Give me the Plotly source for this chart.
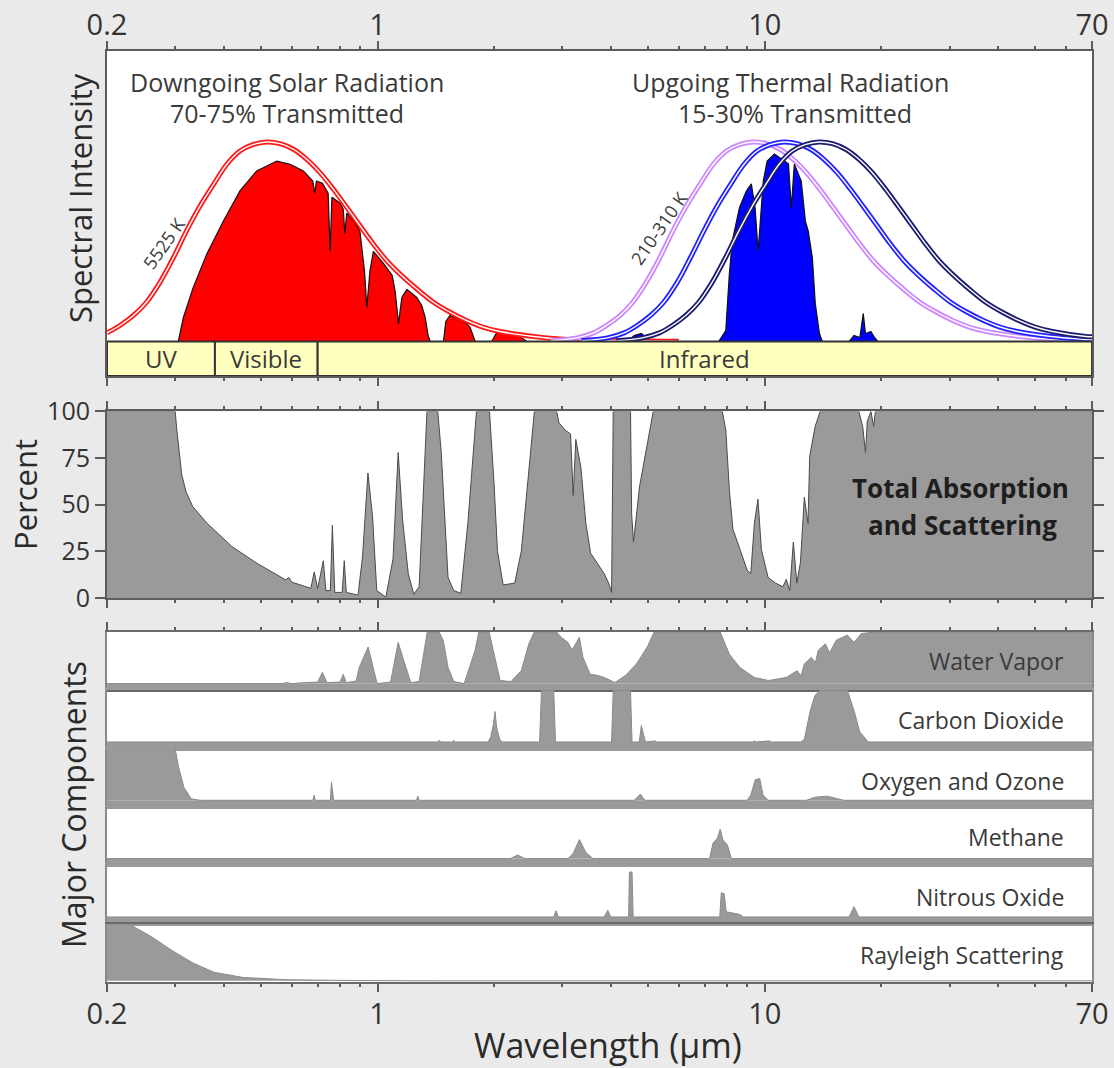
import math
import plotly.graph_objects as go

# ---------------- data ----------------
AXIS_TICKS = [0.2, 1, 10, 70]
AXIS_TICK_TEXT = ["0.2", "1", "10", "70"]
MINOR_TICKS = [0.3, 0.4, 0.5, 0.6, 0.7, 0.8, 0.9, 2, 3, 4, 5, 6, 7, 8, 9, 20, 30, 40, 50, 60]
PCT_TICKS = [0, 25, 50, 75, 100]

BAND_EDGES = [0.2, 0.38, 0.70, 70]
BAND_LABELS = ["UV", "Visible", "Infrared"]

# 5525 K black-body curve (normalised)
SOLAR_BB_WL = [0.2, 0.216, 0.234, 0.253, 0.274, 0.297, 0.321, 0.348, 0.377, 0.408, 0.441, 0.478,
               0.517, 0.56, 0.606, 0.656, 0.71, 0.769, 0.833, 0.901, 0.975, 1.056, 1.143, 1.263,
               1.394, 1.539, 1.70, 1.877, 2.073, 2.53, 2.96, 4.0, 6.0]
SOLAR_BB_VAL = [0.043, 0.08, 0.13, 0.196, 0.295, 0.419, 0.552, 0.677, 0.784, 0.884, 0.95, 0.983,
                0.995, 0.987, 0.959, 0.909, 0.842, 0.759, 0.668, 0.577, 0.486, 0.403, 0.336, 0.262,
                0.196, 0.146, 0.104, 0.071, 0.05, 0.025, 0.013, 0.005, 0.001]

# Solar radiation transmitted to the surface
SOLAR_SFC_WL = [0.3056, 0.315, 0.334, 0.362, 0.400, 0.441, 0.487, 0.549, 0.594, 0.643, 0.680, 0.688,
                0.695, 0.72, 0.745, 0.754, 0.762, 0.80, 0.815, 0.823, 0.832, 0.87, 0.90, 0.925,
                0.938, 0.955, 0.975, 1.035, 1.09, 1.11, 1.132, 1.155, 1.19, 1.262, 1.30, 1.327,
                1.35, 1.367, 1.479, 1.50, 1.538, 1.634, 1.70, 1.734, 1.786, 1.97, 2.03, 2.15,
                2.29, 2.43, 3.0, 3.4, 3.9, 4.1]
SOLAR_SFC_VAL = [0.0, 0.12, 0.27, 0.436, 0.602, 0.751, 0.851, 0.90, 0.884, 0.851, 0.80, 0.74,
                 0.80, 0.79, 0.74, 0.45, 0.72, 0.69, 0.66, 0.536, 0.64, 0.60, 0.55, 0.35,
                 0.17, 0.35, 0.45, 0.39, 0.33, 0.25, 0.088, 0.22, 0.26, 0.22, 0.18, 0.12,
                 0.03, 0.0, 0.0, 0.10, 0.13, 0.11, 0.09, 0.07, 0.0, 0.0, 0.045, 0.05,
                 0.035, 0.0, 0.0, 0.008, 0.008, 0.0]

# 310 K, 260 K and 210 K black-body curves (normalised)
BB310_WL = [2.8, 3.27, 3.61, 3.90, 4.23, 4.56, 4.94, 5.36, 5.79, 6.28, 6.80, 7.36, 7.96, 8.63, 9.33,
            10.10, 10.94, 11.84, 12.81, 13.87, 15.03, 16.26, 17.60, 19.06, 20.63, 22.79, 25.15,
            27.78, 30.68, 33.88, 37.41, 45.66, 53.41, 70]
BB310_VAL = [0.004, 0.018, 0.043, 0.08, 0.13, 0.196, 0.295, 0.419, 0.552, 0.677, 0.784, 0.884, 0.95,
             0.983, 0.995, 0.987, 0.959, 0.909, 0.842, 0.759, 0.668, 0.577, 0.486, 0.403, 0.336,
             0.262, 0.196, 0.146, 0.104, 0.071, 0.05, 0.025, 0.013, 0.004]
BB260_WL = [3.36, 3.92, 4.33, 4.68, 5.07, 5.48, 5.94, 6.43, 6.96, 7.54, 8.16, 8.84, 9.55, 10.36, 11.2,
            12.13, 13.13, 14.21, 15.38, 16.65, 18.04, 19.52, 21.12, 22.88, 24.76, 27.36, 30.20,
            33.34, 36.83, 40.67, 44.91, 54.81, 64.12, 70]
BB260_VAL = [0.004, 0.018, 0.043, 0.08, 0.13, 0.196, 0.295, 0.419, 0.552, 0.677, 0.784, 0.884, 0.95,
             0.983, 0.995, 0.987, 0.959, 0.909, 0.842, 0.759, 0.668, 0.577, 0.486, 0.403, 0.336,
             0.262, 0.196, 0.146, 0.104, 0.071, 0.05, 0.025, 0.013, 0.009]
BB210_WL = [4.14, 4.83, 5.34, 5.77, 6.25, 6.75, 7.31, 7.92, 8.57, 9.29, 10.06, 10.89, 11.77, 12.77,
            13.8, 14.95, 16.17, 17.51, 18.95, 20.52, 22.23, 24.05, 26.03, 28.19, 30.51, 33.71,
            37.20, 41.08, 45.37, 50.11, 55.34, 67.54, 70]
BB210_VAL = [0.004, 0.018, 0.043, 0.08, 0.13, 0.196, 0.295, 0.419, 0.552, 0.677, 0.784, 0.884, 0.95,
             0.983, 0.995, 0.987, 0.959, 0.909, 0.842, 0.759, 0.668, 0.577, 0.486, 0.403, 0.336,
             0.262, 0.196, 0.146, 0.104, 0.071, 0.05, 0.025, 0.024]

# Thermal radiation transmitted to space
THERMAL_TOA_WL = [4.4, 4.6, 4.8, 5.0, 5.2, 7.6, 7.93, 8.10, 8.24, 8.60, 8.96, 9.23, 9.44, 9.61, 9.91,
                  10.14, 10.59, 11.04, 11.51, 11.71, 11.92, 12.42, 12.73, 12.95, 13.27, 13.50,
                  13.84, 14.08, 16.5, 17.0, 17.6, 17.96, 18.2, 18.8, 19.2, 19.6]
THERMAL_TOA_VAL = [0.0, 0.03, 0.04, 0.01, 0.0, 0.0, 0.055, 0.338, 0.50, 0.667, 0.75, 0.786, 0.667,
                   0.45, 0.80, 0.90, 0.935, 0.91, 0.886, 0.667, 0.886, 0.80, 0.60, 0.55, 0.418,
                   0.19, 0.04, 0.0, 0.0, 0.03, 0.02, 0.14, 0.04, 0.05, 0.02, 0.0]

# Total absorption and scattering (percent)
TOTAL_WL = [0.2, 0.30, 0.303, 0.307, 0.312, 0.32, 0.333, 0.363, 0.421, 0.488, 0.579, 0.59, 0.60,
            0.672, 0.686, 0.70, 0.724, 0.735, 0.755, 0.764, 0.775, 0.81, 0.82, 0.83, 0.89, 0.914,
            0.944, 0.97, 0.995, 1.05, 1.096, 1.13, 1.16, 1.20, 1.24, 1.28, 1.341, 1.43, 1.46,
            1.52, 1.573, 1.64, 1.71, 1.80, 1.945, 2.0, 2.04, 2.11, 2.26, 2.35, 2.42, 2.54, 2.90,
            2.94, 3.05, 3.15, 3.2, 3.25, 3.35, 3.45, 3.55, 3.7, 3.85, 3.95, 4.02, 4.06, 4.50,
            4.53, 4.58, 4.75, 4.95, 5.15, 7.77, 7.93, 8.10, 8.27, 8.63, 9.0, 9.2, 9.4, 9.6, 9.8,
            10.2, 10.66, 11.14, 11.36, 11.6, 11.85, 12.1, 12.36, 12.65, 12.93, 13.06, 13.49,
            13.9, 17.5, 17.9, 18.2, 18.4, 18.8, 19.1, 19.3, 70]
TOTAL_PCT = [100, 100, 90, 78, 66, 57, 49, 40, 27.5, 18.6, 9.7, 11, 8.5,
             5.2, 14, 5, 20, 4, 4, 39, 3, 3, 20, 3, 1.5, 22,
             67, 44, 4, 0.5, 21, 78, 42, 13, 2, 6, 100, 100, 78,
             11, 4, 2.5, 40, 100, 100, 60, 25, 7, 8, 25, 52, 100, 100,
             94, 90, 88, 55, 85, 70, 40, 24, 18, 13, 8, 3, 100, 100,
             45, 30, 60, 80, 100, 100, 90, 58, 37, 26, 15, 13, 40, 53, 26,
             11, 8, 6, 10, 4, 30, 8, 19, 54, 40, 76, 92,
             100, 100, 92, 78, 95, 100, 92, 100, 100]

# Major components (relative absorption, 0-1)
COMPONENT_NAMES = ["Water Vapor", "Carbon Dioxide", "Oxygen and Ozone", "Methane",
                   "Nitrous Oxide", "Rayleigh Scattering"]
H2O_WL = [0.2, 0.57, 0.58, 0.60, 0.65, 0.70, 0.72, 0.74, 0.80, 0.815, 0.83, 0.88, 0.896, 0.945,
          0.974, 0.997, 1.08, 1.13, 1.168, 1.218, 1.28, 1.343, 1.442, 1.477, 1.521, 1.573,
          1.673, 1.786, 1.825, 1.941, 1.988, 2.073, 2.21, 2.349, 2.458, 2.538, 2.9, 2.98,
          3.10, 3.18, 3.32, 3.39, 3.54, 3.69, 3.85, 4.10, 4.37, 4.66, 4.97, 5.18, 7.67, 7.76,
          8.10, 8.63, 9.40, 10.22, 11.36, 12.12, 12.4, 12.65, 13.19, 13.5, 13.75, 14.34, 14.7,
          15.3, 16.34, 17.0, 17.76, 19.3, 70]
H2O_VAL = [0, 0, 0.02, 0, 0.02, 0.03, 0.22, 0.02, 0.03, 0.18, 0.02, 0.05, 0.31, 0.71,
           0.31, 0, 0.03, 0.8, 0.45, 0.02, 0.04, 1.0, 1.0, 0.84, 0.31, 0.04,
           0, 0.65, 1.0, 1.0, 0.65, 0.06, 0.04, 0.25, 0.77, 1.0, 1.0, 0.9,
           0.8, 0.65, 0.9, 0.51, 0.18, 0.16, 0.12, 0.02, 0.16, 0.38, 0.71, 1.0, 1.0, 0.9,
           0.57, 0.31, 0.12, 0.06, 0.12, 0.25, 0.15, 0.38, 0.51, 0.4, 0.65, 0.77, 0.6,
           0.84, 0.94, 0.8, 0.97, 1.0, 1.0]
CO2_WL = [0.2, 1.43, 1.44, 1.46, 1.56, 1.57, 1.59, 1.93, 1.96, 1.99, 2.01, 2.03, 2.07, 2.10,
          2.62, 2.65, 2.85, 2.88, 4.02, 4.06, 4.50, 4.54, 4.74, 4.8, 4.86, 4.92, 5.2, 5.26,
          9.3, 9.4, 9.5, 10.3, 10.4, 12.37, 12.65, 13.1, 13.47, 13.9, 16.34, 17.03, 17.58,
          18.5, 70]
CO2_VAL = [0, 0, 0.03, 0, 0, 0.03, 0, 0, 0.1, 0.33, 0.59, 0.27, 0.04, 0,
           0, 1.0, 1.0, 0, 0, 1.0, 1.0, 0, 0, 0.32, 0.15, 0, 0.02, 0,
           0, 0.02, 0, 0.02, 0, 0, 0.05, 0.6, 0.9, 1.0, 1.0, 0.59, 0.2,
           0, 0]
O3_WL = [0.2, 0.30, 0.306, 0.316, 0.33, 0.348, 0.68, 0.686, 0.69, 0.755, 0.76, 0.77, 1.26,
         1.27, 1.28, 4.6, 4.77, 4.9, 9.0, 9.2, 9.45, 9.7, 9.9, 10.2, 12.8, 13.5, 14.5, 15.5,
         16.0, 70]
O3_VAL = [1.0, 1.0, 0.65, 0.25, 0.03, 0, 0, 0.1, 0, 0, 0.35, 0, 0,
          0.08, 0, 0, 0.12, 0, 0, 0.1, 0.4, 0.42, 0.1, 0, 0, 0.06, 0.08, 0.03,
          0, 0]
CH4_WL = [0.2, 2.2, 2.3, 2.4, 3.1, 3.2, 3.32, 3.45, 3.6, 7.2, 7.35, 7.55, 7.67, 7.8, 8.0, 8.2, 70]
CH4_VAL = [0, 0, 0.07, 0, 0, 0.1, 0.37, 0.12, 0, 0, 0.3, 0.4, 0.57, 0.36, 0.27, 0, 0]
N2O_WL = [0.2, 2.85, 2.89, 2.93, 3.85, 3.93, 4.0, 4.45, 4.47, 4.54, 4.57, 7.65, 7.72, 7.85,
          7.95, 8.6, 8.8, 16.5, 17.0, 17.5, 70]
N2O_VAL = [0, 0, 0.12, 0, 0, 0.13, 0, 0, 0.87, 0.87, 0, 0, 0.47, 0.45,
           0.1, 0.05, 0, 0, 0.2, 0, 0]
RAYLEIGH_WL = [0.2, 0.227, 0.258, 0.293, 0.334, 0.378, 0.449, 0.58, 0.885, 1.5, 70]
RAYLEIGH_VAL = [1.0, 1.0, 0.79, 0.54, 0.31, 0.15, 0.06, 0.02, 0.005, 0, 0]

COMPONENTS = [(H2O_WL, H2O_VAL), (CO2_WL, CO2_VAL), (O3_WL, O3_VAL),
              (CH4_WL, CH4_VAL), (N2O_WL, N2O_VAL), (RAYLEIGH_WL, RAYLEIGH_VAL)]

# ---------------- layout constants ----------------
W, H = 1114, 1068
ML, MR, MT, MB = 107, 22, 51, 86
PLOT_H = H - MT - MB
PLOT_W = W - ML - MR
FONT = "Open Sans"
BG = "#eaeaea"
GRAY = "#9a9a9a"
AXC = "#5c5c5c"
STRIPC = GRAY


def py(p):
    return round((H - MB - p) / PLOT_H, 6)


def pyd(p):
    return min(1.0, max(0.0, py(p)))


def px(p):
    return (p - ML) / PLOT_W


XRANGE = [math.log10(0.2), math.log10(70)]

fig = go.Figure()

# ---- top panel ----
fig.add_trace(go.Scatter(x=SOLAR_SFC_WL, y=SOLAR_SFC_VAL, fill="tozeroy", fillcolor="#ff0000",
                         line=dict(color="#111111", width=1.2), mode="lines",
                         xaxis="x", yaxis="y", showlegend=False, hoverinfo="skip"))
fig.add_trace(go.Scatter(x=THERMAL_TOA_WL, y=THERMAL_TOA_VAL, fill="tozeroy", fillcolor="#0000ff",
                         line=dict(color="#111111", width=1.2), mode="lines",
                         xaxis="x", yaxis="y", showlegend=False, hoverinfo="skip"))


def double_line(xs, ys, color):
    fig.add_trace(go.Scatter(x=xs, y=ys, mode="lines", line=dict(color=color, width=5, shape="spline"),
                             xaxis="x", yaxis="y", showlegend=False, hoverinfo="skip"))
    fig.add_trace(go.Scatter(x=xs, y=ys, mode="lines", line=dict(color="white", width=1.4, shape="spline"),
                             xaxis="x", yaxis="y", showlegend=False, hoverinfo="skip"))


double_line(SOLAR_BB_WL, SOLAR_BB_VAL, "#ff1a1a")
double_line(BB310_WL, BB310_VAL, "#cc88ff")
double_line(BB260_WL, BB260_VAL, "#2323ff")
double_line(BB210_WL, BB210_VAL, "#1c1c6e")

# ---- middle panel ----
fig.add_trace(go.Scatter(x=TOTAL_WL, y=TOTAL_PCT, fill="tozeroy", fillcolor=GRAY, mode="lines",
                         line=dict(color="#4a4a4a", width=1), xaxis="x2", yaxis="y2",
                         showlegend=False, hoverinfo="skip"))

# ---- component strips ----
for k, (wl, val) in enumerate(COMPONENTS):
    n = k + 3
    fig.add_trace(go.Scatter(x=wl, y=val, fill="tozeroy", fillcolor=GRAY, mode="lines",
                             line=dict(color="#8a8a8a", width=1), xaxis=f"x{n}", yaxis=f"y{n}",
                             showlegend=False, hoverinfo="skip"))

# ---------------- axes ----------------
TOP_Y0 = -0.172
TOP_Y1 = 1.449
layout = dict(
    width=W, height=H,
    margin=dict(l=ML, r=MR, t=MT, b=MB, autoexpand=False),
    paper_bgcolor=BG, plot_bgcolor="white",
    font=dict(family=FONT, color="#333333"),
    showlegend=False,
)

minor_cfg = dict(tickvals=MINOR_TICKS, ticklen=3, tickwidth=1.5, tickcolor=AXC, ticks="outside")


def xaxis_cfg(domain_anchor, side, labels, ticks=True, mirror="ticks"):
    cfg = dict(type="log", range=XRANGE, anchor=domain_anchor, side=side, automargin=False,
               showgrid=False, zeroline=False, showline=True, linecolor=AXC, linewidth=2,
               mirror=mirror)
    if ticks:
        cfg.update(tickmode="array", tickvals=AXIS_TICKS, ticktext=AXIS_TICK_TEXT,
                   ticks="outside", ticklen=8, tickwidth=1.5, tickcolor=AXC, minor=minor_cfg,
                   showticklabels=labels, tickfont=dict(size=29, color="#333333", family=FONT))
    else:
        cfg.update(ticks="", showticklabels=False)
    return cfg


TOP_DOM = [pyd(376), 1.0]
MID_DOM = [pyd(598), pyd(411.5)]
layout["xaxis"] = xaxis_cfg("y", "top", True)
layout["xaxis"]["ticklabelstandoff"] = -6
layout["yaxis"] = dict(domain=TOP_DOM, range=[TOP_Y0, TOP_Y1], anchor="x", showgrid=False,
                       zeroline=False, showticklabels=False, ticks="", showline=True,
                       linecolor=AXC, linewidth=2, mirror=True, automargin=False)
layout["xaxis2"] = xaxis_cfg("y2", "bottom", False)
layout["yaxis2"] = dict(domain=MID_DOM, range=[0, 100], anchor="x2", showgrid=False, zeroline=False,
                        tickmode="array", tickvals=PCT_TICKS, ticks="outside", ticklen=10,
                        tickwidth=1.5, tickcolor=AXC, showline=True, linecolor=AXC, linewidth=2,
                        mirror="ticks", automargin=False,
                        tickfont=dict(size=25, color="#333333", family=FONT))

STRIP_TOP = 632.0
STRIP_H = (982.0 - STRIP_TOP) / 6
STRIP_Y0 = -0.13
shapes = []
for k in range(6):
    n = k + 3
    top = STRIP_TOP + k * STRIP_H
    dom = [pyd(top + STRIP_H), pyd(top)]
    if k == 0:
        xa = xaxis_cfg(f"y{n}", "top", False, ticks=True, mirror=True)
        xa["linecolor"] = "#6a6a6a"
    elif k == 5:
        xa = xaxis_cfg(f"y{n}", "bottom", True, ticks=True, mirror=True)
        xa["linecolor"] = "#6a6a6a"
        xa["ticklabelstandoff"] = -3
    else:
        xa = xaxis_cfg(f"y{n}", "bottom", False, ticks=False, mirror=True)
        xa["linecolor"] = STRIPC
    layout[f"xaxis{n}"] = xa
    y0 = STRIP_Y0 if k < 5 else -0.02
    layout[f"yaxis{n}"] = dict(domain=dom, range=[y0, 1.0], anchor=f"x{n}", showgrid=False,
                               zeroline=False, showticklabels=False, ticks="", showline=True,
                               linecolor="#8a8a8a", linewidth=2, mirror=True, automargin=False)
    if k < 5:
        shapes.append(dict(type="rect", xref=f"x{n} domain", yref=f"y{n}", x0=0, x1=1,
                           y0=STRIP_Y0, y1=0, fillcolor=GRAY, line=dict(width=0), layer="below"))

# spectral band bar
for i, lab in enumerate(BAND_LABELS):
    shapes.append(dict(type="rect", xref="x", yref="y", x0=BAND_EDGES[i], x1=BAND_EDGES[i + 1],
                       y0=TOP_Y0, y1=0, fillcolor="#ffffc0", line=dict(color="#333333", width=2),
                       layer="above"))
layout["shapes"] = shapes

ann = []


def text(x, y, s, size, color="#3a3a3a", angle=0, xanchor="center", bold=False, xref="paper", yref="paper"):
    if bold:
        s = f"<b>{s}</b>"
    ann.append(dict(x=x, y=y, xref=xref, yref=yref, text=s, showarrow=False, textangle=angle,
                    xanchor=xanchor, yanchor="middle", font=dict(size=size, color=color, family=FONT)))


for i, lab in enumerate(BAND_LABELS):
    xc = (math.log10(BAND_EDGES[i]) + math.log10(BAND_EDGES[i + 1])) / 2
    text(xc, TOP_Y0 / 2, lab, 24, "#3a3a3a", xref="x", yref="y")

text(px(287), py(82), "Downgoing Solar Radiation", 25)
text(px(287), py(113), "70-75% Transmitted", 25)
text(px(790), py(82), "Upgoing Thermal Radiation", 25)
text(px(795), py(113), "15-30% Transmitted", 25)
text(px(164), py(243), "5525 K", 18, angle=-55)
text(px(659), py(228), "210-310 K", 18, angle=-55)

text(px(960), py(488), "Total Absorption", 26, "#1e1e1e", bold=True)
text(px(962), py(525), "and Scattering", 26, "#1e1e1e", bold=True)

strip_label_y = [661, 720, 781, 837, 897, 955]
for name, yy in zip(COMPONENT_NAMES, strip_label_y):
    text(px(1066), py(yy), name, 23, "#3a3a3a", xanchor="right")

text(px(80), py(198), "Spectral Intensity", 31, "#2a2a2a", angle=-90)
text(px(25), py(495), "Percent", 31, "#2a2a2a", angle=-90)
text(px(73), py(805), "Major Components", 32, "#2a2a2a", angle=-90)
text(px(608), py(1045), "Wavelength (µm)", 34, "#2a2a2a")

layout["annotations"] = ann
fig.update_layout(**layout)
fig.write_html("out.html", config={"displayModeBar": False},
               post_script="document.body.style.margin='0';")
